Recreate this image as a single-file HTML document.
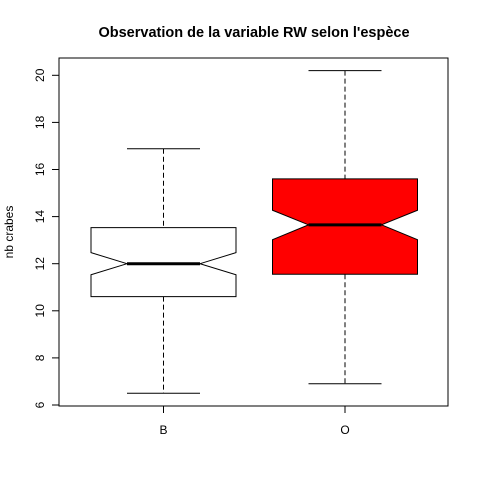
<!DOCTYPE html>
<html><head><meta charset="utf-8"><style>
body{margin:0;background:#fff}
svg{display:block;font-family:"Liberation Sans",Arial,sans-serif}
</style></head><body>
<svg id="chart" width="480" height="480">
<text x="254" y="37" text-anchor="middle" font-size="14.5" font-weight="bold">Observation de la variable RW selon l'espèce</text>
<text transform="translate(13,232) rotate(-90)" text-anchor="middle" font-size="12">nb crabes</text>
<rect x="59" y="58" width="389" height="348" fill="none" stroke="#000"/>
<g id="yaxis"></g>
<g id="boxes"></g>
</svg>
<script>
const categories=["B","O"];
const lowerWhisker=[6.5,6.9];
const q1=[10.6,11.55];
const medians=[12.0,13.65];
const q3=[13.53,15.6];
const upperWhisker=[16.88,20.2];
const notchLow=[11.53,13.02];
const notchHigh=[12.47,14.27];
const fills=["#ffffff","#ff0000"];
const yTicks=[6,8,10,12,14,16,18,20];
const NS="http://www.w3.org/2000/svg";
function y(v){return 405-(v-6)*23.55;}
function x(i){return 163.5+i*181.5;}
function mk(t,a,p){const e=document.createElementNS(NS,t);for(const k in a)e.setAttribute(k,a[k]);p.appendChild(e);return e;}
const ya=document.getElementById('yaxis');
mk('line',{x1:59,x2:59,y1:y(6),y2:y(20),stroke:'#000'},ya);
yTicks.forEach(t=>{
  const l=mk('line',{x1:52,x2:59,y1:y(t),y2:y(t),stroke:'#000'},ya);
  
  
  const tx=mk('text',{transform:`translate(44,${y(t)}) rotate(-90)`,'text-anchor':'middle','font-size':12},ya);
  tx.textContent=t;
  
  
});
const bx=document.getElementById('boxes');
categories.forEach((c,i)=>{
  const cx=x(i),hw=72.5,nw=36.5;
  const g=mk('g',{},bx);
  
  
  mk('line',{x1:cx,x2:cx,y1:y(upperWhisker[i]),y2:y(q3[i]),stroke:'#000','stroke-dasharray':'5,3'},g);
  mk('line',{x1:cx,x2:cx,y1:y(q1[i]),y2:y(lowerWhisker[i]),stroke:'#000','stroke-dasharray':'5,3'},g);
  mk('line',{x1:cx-nw,x2:cx+nw,y1:y(upperWhisker[i]),y2:y(upperWhisker[i]),stroke:'#000'},g);
  mk('line',{x1:cx-nw,x2:cx+nw,y1:y(lowerWhisker[i]),y2:y(lowerWhisker[i]),stroke:'#000'},g);
  const pts=[[cx-hw,y(q3[i])],[cx+hw,y(q3[i])],[cx+hw,y(notchHigh[i])],[cx+nw,y(medians[i])],[cx+hw,y(notchLow[i])],[cx+hw,y(q1[i])],[cx-hw,y(q1[i])],[cx-hw,y(notchLow[i])],[cx-nw,y(medians[i])],[cx-hw,y(notchHigh[i])]];
  mk('polygon',{points:pts.map(p=>p.join(',')).join(' '),fill:fills[i],stroke:'#000'},g);
  mk('line',{x1:cx-nw,x2:cx+nw,y1:y(medians[i]),y2:y(medians[i]),stroke:'#000','stroke-width':3},g);
  const tx=mk('text',{x:cx,y:434,'text-anchor':'middle','font-size':12},bx);
  tx.textContent=c;
  
  
  mk('line',{x1:cx,x2:cx,y1:406,y2:413,stroke:'#000'},bx);
});
</script>
</body></html>
